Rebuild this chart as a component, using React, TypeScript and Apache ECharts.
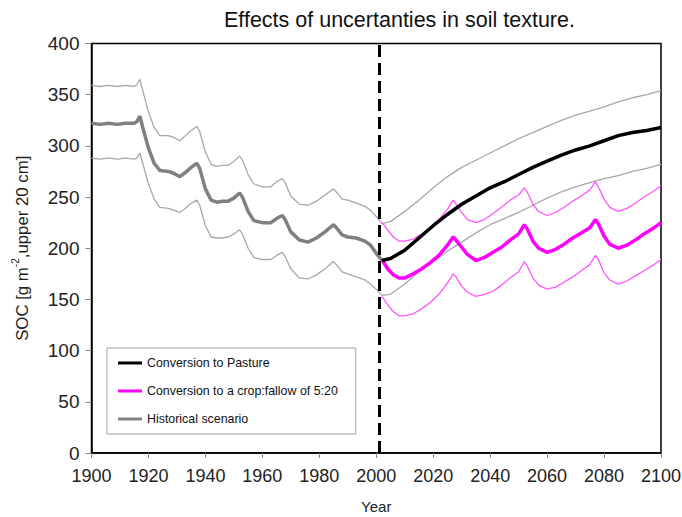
import React, { useEffect, useRef } from 'react';
import * as echarts from 'echarts';

const TITLE = 'Effects of uncertanties in soil texture.';
const X_NAME = 'Year';
const LEGEND_NAMES = ['Conversion to Pasture', 'Conversion to a crop:fallow of 5:20', 'Historical scenario'];
const CHANGE_YEAR = 2001;

// Historical scenario (1900-2002)
const HIST_YEARS = [1900, 1903, 1906, 1909, 1912, 1915, 1916, 1917, 1918, 1920, 1922, 1924, 1927, 1929, 1931, 1933, 1935, 1937, 1938, 1940, 1942, 1944, 1946, 1948, 1950, 1952, 1953, 1955, 1957, 1960, 1963, 1965, 1967, 1968, 1970, 1973, 1976, 1979, 1982, 1985, 1986, 1988, 1990, 1993, 1996, 1998, 2000, 2002];
const HIST_MID = [322, 321, 322, 321, 322, 322, 324, 329, 318, 298, 283, 276, 275, 273, 270, 274, 279, 283, 278, 258, 247, 245, 246, 246, 249, 254, 250, 236, 227, 225, 225, 229, 232, 228, 216, 208, 206, 210, 216, 223, 220, 213, 211, 210, 207, 203, 195, 188];
const HIST_UP = [359, 358, 359, 358, 359, 358, 360, 365, 354, 333, 318, 310, 310, 308, 305, 310, 315, 319, 314, 294, 282, 280, 281, 281, 285, 290, 286, 272, 263, 260, 260, 265, 268, 264, 251, 243, 242, 246, 252, 258, 255, 248, 247, 244, 241, 237, 231, 224];
const HIST_LO = [288, 287, 288, 287, 288, 287, 288, 293, 283, 263, 248, 240, 239, 237, 235, 239, 244, 247, 242, 222, 211, 210, 210, 211, 214, 218, 214, 200, 191, 189, 189, 193, 196, 192, 180, 171, 170, 174, 180, 187, 184, 177, 175, 172, 169, 165, 160, 154];

// Conversion to pasture (2002-2100)
const PAST_YEARS = [2002, 2005, 2010, 2015, 2020, 2025, 2030, 2035, 2040, 2045, 2050, 2055, 2060, 2065, 2070, 2075, 2080, 2085, 2090, 2095, 2100];
const PAST_MID = [188, 190, 198, 210, 222, 233, 243, 251, 259, 265, 272, 279, 285, 291, 296, 300, 305, 310, 313, 315, 318];
const PAST_UP = [224, 226, 236, 247, 259, 270, 279, 286, 293, 300, 307, 313, 319, 325, 330, 334, 338, 343, 347, 350, 354];
const PAST_LO = [154, 155, 165, 177, 187, 197, 206, 215, 223, 229, 235, 242, 249, 255, 260, 264, 268, 271, 275, 278, 282];

// Conversion to a crop:fallow of 5:20 (2002-2100)
const CROP_YEARS = [2002, 2004, 2006, 2008, 2010, 2013, 2016, 2019, 2022, 2025, 2027, 2028, 2030, 2032, 2035, 2038, 2041, 2044, 2047, 2050, 2052, 2053, 2055, 2057, 2060, 2063, 2066, 2069, 2072, 2075, 2077, 2078, 2080, 2082, 2085, 2088, 2091, 2094, 2097, 2100];
const CROP_MID = [189, 180, 174, 171, 171, 175, 180, 186, 193, 203, 211, 208, 201, 194, 188, 191, 196, 201, 208, 214, 223, 219, 207, 200, 196, 199, 204, 210, 215, 220, 228, 224, 212, 204, 200, 203, 208, 214, 219, 225];
const CROP_UP = [225, 218, 211, 207, 207, 209, 214, 220, 228, 238, 247, 243, 235, 228, 225, 228, 234, 240, 247, 252, 259, 255, 243, 236, 232, 235, 240, 246, 251, 257, 265, 260, 248, 240, 236, 239, 244, 250, 255, 261];
const CROP_LO = [153, 145, 138, 134, 134, 136, 141, 147, 155, 166, 175, 172, 163, 157, 153, 155, 158, 164, 171, 177, 187, 183, 171, 164, 160, 162, 167, 172, 178, 184, 193, 189, 176, 169, 165, 168, 173, 178, 183, 189];

const FONT = 'Liberation Sans, Arial, sans-serif';

function pairs(xs: number[], ys: number[]) {
  return xs.map((x, i) => [x, ys[i]]);
}

function line(name: string, xs: number[], ys: number[], color: string, width: number, z: number, extra: any = {}) {
  return {
    name,
    type: 'line',
    data: pairs(xs, ys),
    showSymbol: false,
    symbol: 'none',
    color,
    lineStyle: { color, width },
    z,
    emphasis: { disabled: true },
    ...extra,
  };
}

export default function App() {
  const ref = useRef<HTMLDivElement>(null);
  useEffect(() => {
    document.body.style.margin = '0';
    const chart = echarts.init(ref.current!, null, { renderer: 'svg' });
    const thinGray = '#a8a8a8';
    const thinPink = '#ff55ff';
    chart.setOption({
      animation: false,
      backgroundColor: '#fff',
      title: {
        text: TITLE,
        left: 219,
        top: 4,
        textStyle: { fontFamily: FONT, fontSize: 21.5, fontWeight: 'normal', color: '#111' },
      },
      legend: {
        data: LEGEND_NAMES,
        orient: 'vertical',
        left: 107,
        top: 348,
        icon: 'rect',
        itemWidth: 24,
        itemHeight: 3,
        itemGap: 16,
        padding: [9, 18, 9, 11],
        borderColor: '#a0a0a0',
        borderWidth: 1,
        backgroundColor: '#fff',
        selectedMode: false,
        textStyle: { fontFamily: FONT, fontSize: 12.4, color: '#111' },
      },
      grid: {
        left: 91.5,
        right: 21,
        top: 43.5,
        bottom: 64,
        show: true,
        borderColor: '#000',
        borderWidth: 1.5,
        backgroundColor: 'transparent',
        containLabel: false,
        outerBoundsMode: 'none',
      },
      xAxis: {
        type: 'value',
        min: 1900,
        max: 2100,
        interval: 20,
        name: X_NAME,
        nameLocation: 'middle',
        nameGap: 46,
        nameTextStyle: { fontFamily: FONT, fontSize: 15, color: '#222' },
        axisLine: { lineStyle: { color: '#000', width: 1.5 } },
        axisTick: { show: true, length: 5, lineStyle: { color: '#888' } },
        axisLabel: { fontFamily: FONT, fontSize: 18, color: '#222', margin: 14, formatter: (v: number) => String(v) },
        splitLine: { show: false },
      },
      yAxis: {
        type: 'value',
        min: 0,
        max: 400,
        interval: 50,
        name: '{a|SOC [g m}{s|-2}{a|,upper 20 cm]}',
        nameLocation: 'middle',
        nameGap: 61,
        nameTextStyle: {
          fontFamily: FONT,
          color: '#222',
          rich: {
            a: { fontFamily: FONT, fontSize: 16.8, color: '#222', lineHeight: 20, verticalAlign: 'bottom' },
            s: { fontFamily: FONT, fontSize: 10, color: '#222', lineHeight: 20, verticalAlign: 'top' },
          },
        },
        axisLine: { show: true, lineStyle: { color: '#000', width: 1.5 } },
        axisTick: { show: true, length: 6, lineStyle: { color: '#888' } },
        axisLabel: { fontFamily: FONT, fontSize: 19, color: '#222', margin: 12, formatter: (v: number) => String(v) },
        splitLine: { show: false },
      },
      series: [
        line('Historical upper', HIST_YEARS, HIST_UP, thinGray, 1.3, 1),
        line('Historical lower', HIST_YEARS, HIST_LO, thinGray, 1.3, 1),
        line('Pasture upper', PAST_YEARS, PAST_UP, thinGray, 1.3, 1),
        line('Pasture lower', PAST_YEARS, PAST_LO, thinGray, 1.3, 1),
        line('Crop:fallow upper', CROP_YEARS, CROP_UP, thinPink, 1.3, 2),
        line('Crop:fallow lower', CROP_YEARS, CROP_LO, thinPink, 1.3, 2),
        line('Historical scenario', HIST_YEARS, HIST_MID, '#808080', 3.5, 3, {
          markLine: {
            silent: true,
            symbol: ['none', 'none'],
            label: { show: false },
            lineStyle: { color: '#000', width: 3, type: [12, 6] },
            data: [{ xAxis: CHANGE_YEAR }],
          },
        }),
        line('Conversion to a crop:fallow of 5:20', CROP_YEARS, CROP_MID, '#ff00ff', 3.5, 4),
        line('Conversion to Pasture', PAST_YEARS, PAST_MID, '#000000', 3.5, 5),
      ],
    });
    return () => chart.dispose();
  }, []);
  return <div ref={ref} style={{ width: 682, height: 517 }} />;
}
